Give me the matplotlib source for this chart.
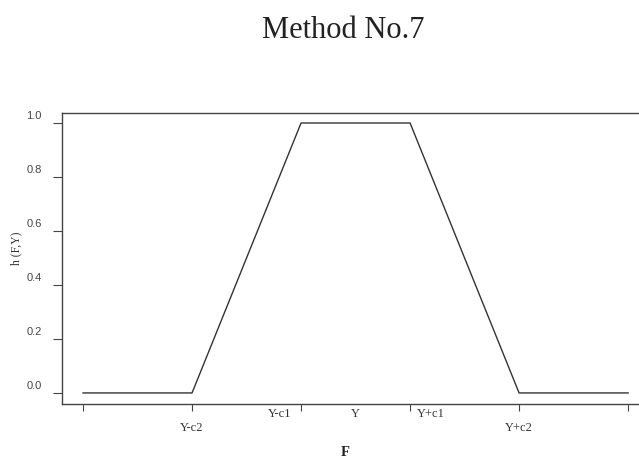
import matplotlib
matplotlib.use("Agg")
import matplotlib.pyplot as plt
import matplotlib.transforms as mtransforms

# membership function h(F,Y), trapezoid
x_pts = [0, 1, 2, 3, 4, 5]
h_vals = [0, 0, 1, 1, 0, 0]
y_ticks = [0.0, 0.2, 0.4, 0.6, 0.8, 1.0]
x_names = ["Y-c2", "Y-c1", "Y", "Y+c1", "Y+c2"]
x_name_pos = [1, 2, 2.5, 3, 4]

line_col = "#333333"
serif = "Liberation Serif"

fig = plt.figure(figsize=(6.39, 4.59), dpi=100)
ax = fig.add_axes([0.097, 0.1198, 0.903, 0.634])

ax.plot(x_pts, h_vals, color=line_col, lw=1.0)

ax.set_xlim(-0.193, 5.1)
ax.set_ylim(-0.041, 1.037)

ax.spines["right"].set_visible(False)
for s in ["left", "top", "bottom"]:
    ax.spines[s].set_color("#444444")
    ax.spines[s].set_linewidth(1.0)

ax.set_xticks(x_pts)
ax.set_xticklabels([])
ax.tick_params(axis="x", direction="out", length=5, width=0.8, color="#444444")

ax.set_yticks(y_ticks)
ax.set_yticklabels(["%.1f" % v for v in y_ticks], fontsize=8,
                   color="#444444", family="Liberation Sans")
ax.tick_params(axis="y", direction="out", length=6.5, width=0.8,
               color="#444444", pad=8)
# R draws these labels a little above the tick
shift = mtransforms.ScaledTranslation(0, 8 / 100, fig.dpi_scale_trans)
for lab in ax.get_yticklabels():
    lab.set_transform(lab.get_transform() + shift)

# names under the x axis, two rows
trans = mtransforms.blended_transform_factory(ax.transData, fig.transFigure)
low_row = ["Y-c2", "Y+c2"]
for name, xp in zip(x_names, x_name_pos):
    ha = "center"
    xo = xp
    if name == "Y-c1":
        ha = "right"
        xo = xp - 0.09
    if name == "Y+c1":
        ha = "left"
        xo = xp + 0.06
    yy = 31 / 459 if name in low_row else 45 / 459
    ax.text(xo, yy, name, transform=trans, ha=ha, va="center",
            fontsize=9, family=serif, color="#333333")

fig.text(345 / 639, 7 / 459, "F", ha="center", va="center",
         fontsize=10.5, fontweight="bold", family=serif, color="#222222")

fig.text(16 / 639, 211 / 459, "h (F,Y)", rotation=90, ha="center",
         va="center", fontsize=8.5, family=serif, color="#333333")

fig.text(343 / 639, 429 / 459, "Method No.7", ha="center", va="center",
         fontsize=22, family=serif, color="#222222")

fig.savefig("out.png", dpi=100)
